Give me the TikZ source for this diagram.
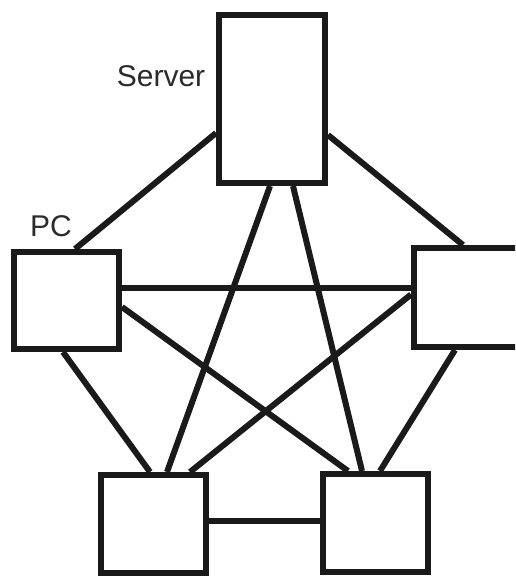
\documentclass[tikz,border=0pt]{standalone}
\usepackage{fontspec}
\setmainfont{Liberation Sans}
\usepackage{tikz}
\usetikzlibrary{calc}
\definecolor{cLine}{HTML}{1A1A1A}
\definecolor{cText}{HTML}{2B2B2B}
\tikzset{
  hostbox/.style={draw=cLine,fill=white,line width=6pt,inner sep=0pt,
      minimum width=105pt},
  netlink/.style={draw=cLine,line width=6pt},
  hostlab/.style={font=\fontsize{30}{33}\selectfont,text=cText,inner sep=0pt},
}
\begin{document}
\begin{tikzpicture}[x=1pt,y=-1pt]
  \clip (0,0) rectangle (515,577);
  \fill[white] (0,0) rectangle (515,577);

  \node[hostbox,minimum width=106pt,minimum height=168pt] (srv) at (272,99) {};
  \node[hostbox,minimum height=97pt] (pc) at (66.5,300.5) {};
  \node[hostbox,minimum width=106pt,minimum height=99pt] (rgt) at (467,297.5) {};
  \node[hostbox,minimum height=98pt] (bl) at (153.5,524) {};
  \node[hostbox,minimum height=98pt] (br) at (375.5,523) {};

  \draw[netlink] ($(srv.west)+(0,34)$) -- ($(pc.north)+(8.5,0)$);
  \draw[netlink] ($(srv.east)+(0,36)$) -- ($(rgt.north)+(-4,0)$);
  \draw[netlink] ($(srv.south)+(-2,0)$) -- ($(bl.north)+(13.5,0)$);
  \draw[netlink] ($(srv.south)+(21,0)$) -- ($(br.north)+(-13.5,0)$);
  \draw[netlink] ($(pc.east)+(0,-12.5)$) -- ($(rgt.west)+(0,-9.5)$);
  \draw[netlink] ($(pc.east)+(0,6.5)$) -- ($(br.north)+(-27.5,0)$);
  \draw[netlink] ($(pc.south)+(-3.5,0)$) -- ($(bl.north)+(-3.5,0)$);
  \draw[netlink] ($(rgt.west)+(0,-3)$) -- ($(bl.north)+(36.5,0)$);
  \draw[netlink] ($(rgt.south)+(-12,0)$) -- ($(br.north)+(4.5,0)$);
  \draw[netlink] ($(bl.east)+(0,-3)$) -- ($(br.west)+(0,-2)$);

  \node[hostlab] (srvlab) at (161,76) {Server};
  \node[hostlab] (pclab) at (51,226) {PC};
\end{tikzpicture}
\end{document}
